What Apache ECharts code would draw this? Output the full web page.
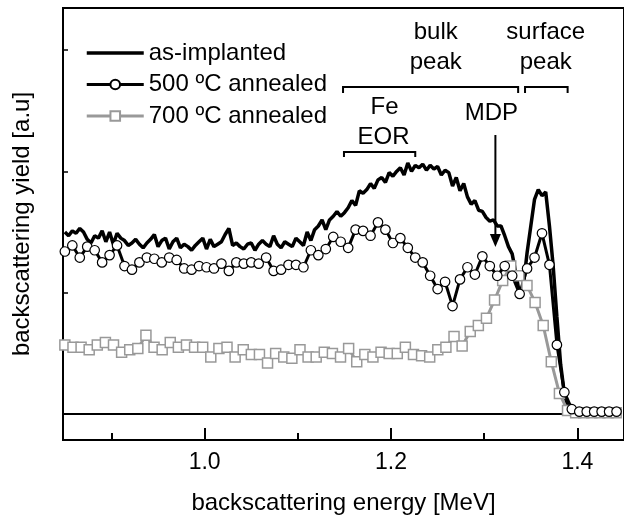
<!DOCTYPE html>
<html><head><meta charset="utf-8">
<script src="https://cdn.jsdelivr.net/npm/echarts@6/dist/echarts.min.js"></script>
<style>html,body{margin:0;padding:0;background:#fff}#c{width:624px;height:523px}</style>
</head><body><div id="c"></div>
<script>
const FONT = '"Liberation Sans", Arial, Helvetica, sans-serif';
const seriesNames = ['as-implanted', '500 ºC annealed', '700 ºC annealed'];
const xTickLabels = [1.0, 1.2, 1.4];
const xMinorTicks = [0.9, 1.1, 1.3];
const yTicks = [1, 2, 3];

// channel calibration (energy of first channel, energy per channel) and yields [a.u]
const asImplantedStart = 0.850, asImplantedStep = 0.004;
const asImplanted = [
  1.50,1.47,1.51,1.49,1.53,1.50,1.44,1.41,1.47,1.45,
  1.51,1.42,1.50,1.40,1.49,1.45,1.43,1.39,1.41,1.44,
  1.40,1.37,1.41,1.44,1.48,1.38,1.43,1.45,1.36,1.42,
  1.45,1.37,1.40,1.38,1.35,1.39,1.42,1.45,1.36,1.44,
  1.38,1.40,1.42,1.48,1.53,1.39,1.41,1.38,1.36,
  1.40,1.41,1.35,1.40,1.43,1.40,1.38,1.47,1.40,1.37,
  1.42,1.40,1.38,1.45,1.42,1.39,1.50,1.43,1.52,1.55,
  1.60,1.52,1.60,1.63,1.67,1.63,1.66,1.70,1.76,1.72,
  1.84,1.82,1.85,1.90,1.86,1.93,1.95,1.91,1.99,1.96,
  2.00,2.03,1.97,2.07,2.00,2.05,2.03,2.06,2.01,2.05,
  2.02,2.04,1.97,2.01,1.99,1.88,1.95,1.84,1.90,1.79,
  1.73,1.76,1.68,1.67,1.62,1.59,1.60,1.55,1.55,1.47,
  1.38,1.32,1.16,0.98,1.06,1.33,1.55,1.77,1.85,1.80,
  1.83,1.55,1.22,0.80,0.41,0.17,0.05,0.02,0.01,0.01,
  0.01,0.01,0.01,0.01,0.01,0.01,0.01,0.01,0.01,0.01
];
const annealed500Start = 0.850, annealed500Step = 0.008;
const annealed500 = [
  1.34,1.39,1.29,1.38,1.35,1.25,1.31,1.39,1.22,1.19,
  1.25,1.29,1.28,1.25,1.29,1.27,1.20,1.19,1.22,1.21,
  1.20,1.24,1.18,1.25,1.24,1.25,1.24,1.29,1.18,1.19,
  1.23,1.23,1.21,1.35,1.31,1.36,1.46,1.42,1.37,1.52,
  1.51,1.47,1.58,1.52,1.41,1.45,1.37,1.29,1.25,1.14,
  1.03,1.09,0.89,1.11,1.21,1.15,1.30,1.22,1.14,1.22,
  1.14,0.99,1.20,1.29,1.49,1.23,0.57,0.18,0.04,0.02,
  0.02,0.02,0.02,0.02,0.02
];
const annealed700Start = 0.850, annealed700Step = 0.0087;
const annealed700 = [
  0.57,0.55,0.55,0.53,0.57,0.59,0.57,0.51,0.53,0.54,
  0.65,0.55,0.53,0.59,0.55,0.57,0.55,0.55,0.47,0.54,
  0.55,0.47,0.53,0.49,0.49,0.42,0.50,0.47,0.46,0.53,
  0.47,0.47,0.51,0.50,0.47,0.54,0.43,0.49,0.47,0.51,
  0.50,0.50,0.55,0.49,0.48,0.47,0.53,0.55,0.64,0.56,
  0.68,0.73,0.79,0.94,1.10,1.22,1.14,1.06,0.92,0.73,
  0.43,0.17,0.03,0.01,0.01,0.01,0.01,0.01,0.01
];
const baselineX = [0.848, 1.385];
const baselineY = [0, 0];

// annotations in data coordinates
const annoTexts = [
  { text: 'bulk', x: 1.248, y: 3.149 },
  { text: 'peak', x: 1.248, y: 2.902 },
  { text: 'surface', x: 1.366, y: 3.149 },
  { text: 'peak', x: 1.366, y: 2.902 },
  { text: 'Fe', x: 1.193, y: 2.531 },
  { text: 'EOR', x: 1.192, y: 2.284 },
  { text: 'MDP', x: 1.3077, y: 2.481 }
];
const brackets = [
  { x1: 1.1485, x2: 1.3364, y: 2.696, tick: 6 },
  { x1: 1.3438, x2: 1.3895, y: 2.696, tick: 6 },
  { x1: 1.1495, x2: 1.2260, y: 2.160, tick: 5 }
];
const arrow = { x: 1.312, yTop: 2.300, yTip: 1.377 };

function pairs(start, step, vals) {
  return vals.map((v, i) => [+(start + i * step).toFixed(4), v]);
}

const chart = echarts.init(document.getElementById('c'), null, { renderer: 'canvas' });
const txt = { fontFamily: FONT, fontSize: 24, color: '#000' };

chart.setOption({
  animation: false,
  backgroundColor: '#fff',
  grid: { left: 63, top: 8, width: 567, height: 432, show: true, borderColor: '#000', borderWidth: 2, backgroundColor: 'transparent' },
  legend: {
    orient: 'vertical', left: 85, top: 41, padding: 0,
    itemWidth: 57, itemHeight: 12, itemGap: 7.5,
    selectedMode: false,
    data: [
      { name: seriesNames[0], itemStyle: { opacity: 0 }, lineStyle: { width: 3.5, color: '#000' } },
      { name: seriesNames[1], lineStyle: { width: 3, color: '#000' } },
      { name: seriesNames[2], lineStyle: { width: 3, color: '#999' } }
    ],
    textStyle: Object.assign({ lineHeight: 23 }, txt)
  },
  xAxis: [
    {
      type: 'value', min: 0.848, max: 1.45, position: 'bottom',
      axisLine: { show: true, onZero: false, lineStyle: { color: '#000', width: 2 } },
      axisTick: { show: true, inside: true, length: 12, customValues: xTickLabels, lineStyle: { color: '#000', width: 2 } },
      axisLabel: { customValues: xTickLabels, formatter: v => v.toFixed(1), margin: 11, fontFamily: FONT, fontSize: 23, color: '#000' },
      splitLine: { show: false },
      name: 'backscattering energy [MeV]', nameLocation: 'middle', nameGap: 51,
      nameTextStyle: txt
    },
    {
      type: 'value', min: 0.848, max: 1.45, position: 'bottom',
      axisLine: { show: false, onZero: false },
      axisTick: { show: true, inside: true, length: 7, customValues: xMinorTicks, lineStyle: { color: '#000', width: 2 } },
      axisLabel: { show: false },
      splitLine: { show: false }
    }
  ],
  yAxis: {
    type: 'value', min: -0.214, max: 3.347,
    axisLine: { show: true, onZero: false, lineStyle: { color: '#000', width: 2 } },
    axisTick: { show: true, inside: true, length: 5, customValues: yTicks, lineStyle: { color: '#000', width: 1.5 } },
    axisLabel: { show: false },
    splitLine: { show: false },
    name: 'backscattering yield [a.u]', nameLocation: 'middle', nameGap: 29,
    nameTextStyle: txt
  },
  series: [
    {
      name: seriesNames[0], type: 'line', data: pairs(asImplantedStart, asImplantedStep, asImplanted),
      symbol: 'none', lineStyle: { color: '#000', width: 3.5 }, itemStyle: { color: '#000' }
    },
    {
      name: 'baseline', type: 'line', data: baselineX.map((x, i) => [x, baselineY[i]]),
      symbol: 'none', silent: true, lineStyle: { color: '#000', width: 2 }, itemStyle: { color: '#000' }
    },
    {
      name: seriesNames[2], type: 'line', data: pairs(annealed700Start, annealed700Step, annealed700),
      symbol: 'rect', symbolSize: 10, showSymbol: true,
      lineStyle: { color: '#999', width: 3 },
      itemStyle: { color: '#fff', borderColor: '#999', borderWidth: 1.5 }
    },
    {
      name: seriesNames[1], type: 'line', data: pairs(annealed500Start, annealed500Step, annealed500),
      symbol: 'circle', symbolSize: 9.5, showSymbol: true,
      lineStyle: { color: '#000', width: 3 },
      itemStyle: { color: '#fff', borderColor: '#000', borderWidth: 1.2 }
    }
  ]
});

const P = (x, y) => chart.convertToPixel({ xAxisIndex: 0, yAxisIndex: 0 }, [x, y]);
const g = [];
annoTexts.forEach(a => {
  const p = P(a.x, a.y);
  g.push({ type: 'text', x: p[0], y: p[1], style: { text: a.text, font: '24px ' + FONT, fill: '#000', align: 'center', verticalAlign: 'middle' } });
});
brackets.forEach(b => {
  const p1 = P(b.x1, b.y), p2 = P(b.x2, b.y);
  g.push({ type: 'polyline', shape: { points: [[p1[0], p1[1] + b.tick], [p1[0], p1[1]], [p2[0], p2[1]], [p2[0], p2[1] + b.tick]] },
    style: { stroke: '#000', lineWidth: 2, fill: null } });
});
{
  const t = P(arrow.x, arrow.yTop), tip = P(arrow.x, arrow.yTip);
  g.push({ type: 'line', shape: { x1: t[0], y1: t[1], x2: tip[0], y2: tip[1] - 10 }, style: { stroke: '#000', lineWidth: 2 } });
  g.push({ type: 'polygon', shape: { points: [[tip[0] - 5.5, tip[1] - 13], [tip[0] + 5.5, tip[1] - 13], [tip[0], tip[1]]] }, style: { fill: '#000' } });
}
chart.setOption({ graphic: g });
</script>
</body></html>
